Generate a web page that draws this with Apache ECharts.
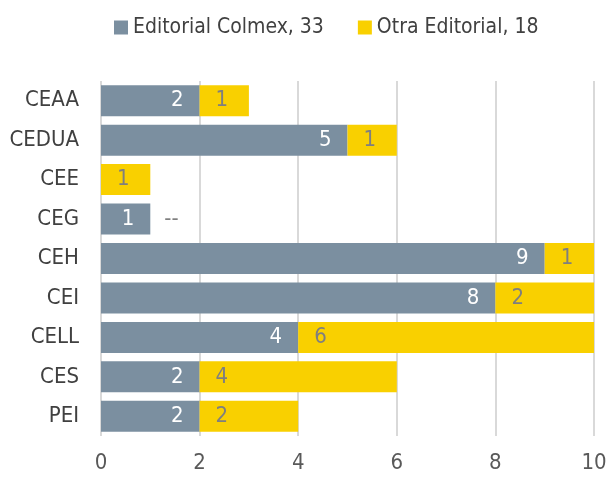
<!DOCTYPE html>
<html>
<head>
<meta charset="utf-8">
<script src="https://cdn.jsdelivr.net/npm/echarts@6/dist/echarts.min.js"></script>
<style>
  html, body { margin: 0; padding: 0; background: #fff; }
  #chart { width: 608px; height: 479px; }
</style>
</head>
<body>
<div id="chart"></div>
<script>
// categorias, de arriba hacia abajo
var categorias = ['CEAA', 'CEDUA', 'CEE', 'CEG', 'CEH', 'CEI', 'CELL', 'CES', 'PEI'];
var colmex = [2, 5, 0, 1, 9, 8, 4, 2, 2];
var otra = [1, 1, 1, 0, 1, 2, 6, 4, 2];
var nombres = ['Editorial Colmex, 33', 'Otra Editorial, 18'];
var ticksX = [0, 2, 4, 6, 8, 10];

var fuente = '"DejaVu Sans Condensed", "Liberation Sans Narrow", sans-serif';

var chart = echarts.init(document.getElementById('chart'));

// valores en cero: Colmex sin etiqueta, Otra con "--"
var datosColmex = colmex.map(function (v) {
    return v === 0 ? { value: v, label: { show: false } } : v;
});
var datosOtra = otra.map(function (v) {
    return v === 0 ? { value: v, label: { formatter: '--', distance: 14 } } : v;
});

chart.setOption({
    animation: false,
    textStyle: { fontFamily: fuente },
    color: ['#7b8fa0', '#f9d000'],
    legend: {
        top: 12,
        left: 109,
        itemWidth: 14,
        itemHeight: 14,
        itemGap: 34,
        icon: 'rect',
        textStyle: { fontFamily: fuente, fontSize: 21, color: '#404040' },
        data: nombres
    },
    grid: { left: 101, right: 14, top: 81, bottom: 43, containLabel: false, outerBoundsMode: 'none' },
    xAxis: {
        type: 'value',
        min: ticksX[0],
        max: ticksX[ticksX.length - 1],
        interval: 2,
        axisLine: { show: false },
        axisTick: { show: false },
        axisLabel: { fontFamily: fuente, fontSize: 22, color: '#595959', margin: 16 },
        splitLine: { show: true, lineStyle: { color: '#d9d9d9', width: 2 } }
    },
    yAxis: {
        type: 'category',
        inverse: true,
        data: categorias,
        axisLine: { show: false },
        axisTick: { show: false },
        axisLabel: { fontFamily: fuente, fontSize: 22, color: '#404040', margin: 22 }
    },
    series: [
        {
            name: nombres[0],
            type: 'bar',
            stack: 'total',
            barWidth: 31,
            data: datosColmex,
            label: {
                show: true,
                position: 'insideRight',
                distance: 16,
                fontFamily: fuente,
                fontSize: 22,
                color: '#ffffff'
            }
        },
        {
            name: nombres[1],
            type: 'bar',
            stack: 'total',
            barWidth: 31,
            data: datosOtra,
            label: {
                show: true,
                position: 'insideLeft',
                distance: 16,
                fontFamily: fuente,
                fontSize: 22,
                color: '#7f7f7f'
            }
        }
    ]
});
</script>
</body>
</html>
